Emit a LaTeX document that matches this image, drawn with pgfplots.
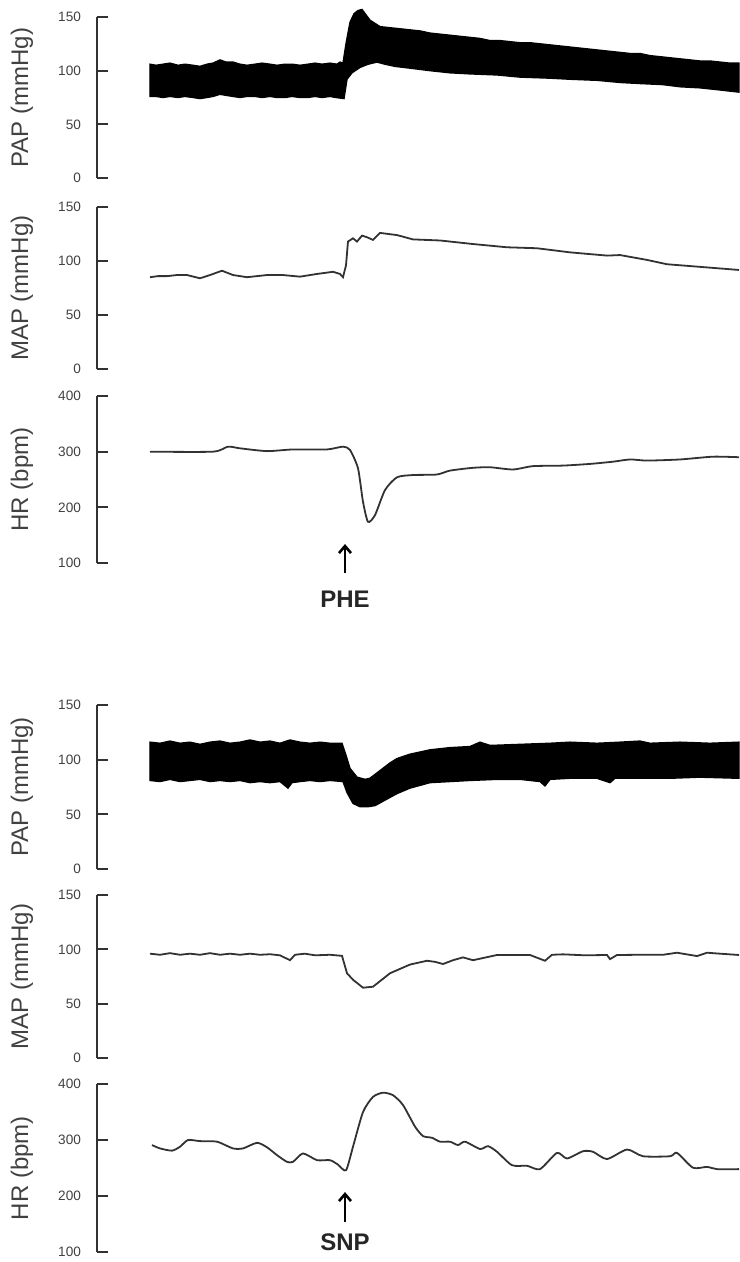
\documentclass[border=0pt]{standalone}
\usepackage{pgfplots}
\pgfplotsset{compat=1.18}
\usetikzlibrary{arrows.meta}
\usepackage{fontspec}
\setmainfont{Liberation Sans}
\definecolor{AxGray}{RGB}{50,50,50}
\definecolor{TxtGray}{RGB}{65,65,65}
\definecolor{TraceGray}{RGB}{50,50,50}

\tikzset{evtarrow/.style={-{Straight Barb[length=3.5pt,width=6pt,line width=1.3pt]}, line width=1.3pt, black}}

\pgfplotsset{
  trace/.style={
    scale only axis,
    width=321pt,
    xmin=97, xmax=739,
    axis x line=none,
    axis y line=left,
    axis line style={-, line width=1.1pt, AxGray},
    tick align=inside,
    major tick length=5.5pt,
    tick style={line width=1.1pt, AxGray},
    /pgf/number format/assume math mode=true,
    yticklabel style={font=\fontsize{6.8}{7}\selectfont, text=TxtGray, xshift=-4.5pt},
    ylabel style={at={(axis description cs:-0.117,0.5)}, anchor=center,
      font=\fontsize{12}{14}\selectfont, text=TxtGray},
    clip=false,
  },
  press/.style={trace, ymin=0, ymax=150, ytick={0,50,100,150}},
  rate/.style={trace, ymin=100, ymax=400, ytick={100,200,300,400}},
}

\begin{document}
\begin{tikzpicture}
\useasboundingbox (0,0) rectangle (369.5pt,-631pt);

% ---------- PHE: pulsatile arterial pressure (upper envelope, then lower back) ----------
\begin{axis}[press, at={(48.5pt,-89pt)}, anchor=south west, height=80.5pt,
  ylabel={PAP (mmHg)}]
\addplot[fill=black, draw=black, line width=0.7pt] coordinates {
(150,106)(156,105)(163,106)(170,107)(178,105)(185,106)(193,105)(200,104)
(207,106)(213,107)(220,110)(226,108)(233,108)(240,106)(247,105)(255,106)
(262,107)(270,106)(277,105)(285,106)(292,106)(300,105)(308,106)(315,107)
(322,106)(330,107)(337,106)(340,108)(343,107)(346,125)(350,145)(354,153)
(358,156)(362,157)(366,152)(370,147)(375,144)(380,141)(390,140)(400,139)
(410,138)(420,137)(430,135)(440,134)(450,133)(460,132)(470,131)(480,130)
(490,128)(500,128)(510,127)(520,126)(530,126)(540,125)(550,124)(560,123)
(570,122)(580,121)(590,120)(600,119)(610,118)(620,117)(630,116)(640,116)
(650,114)(660,113)(670,112)(680,111)(690,110)(700,109)(710,109)(720,108)
(730,107)(739,107)
(739,80)(720,82)(700,84)(680,85)(663,87)(640,88)(620,89)(597,91)
(570,92)(550,93)(520,94)(497,96)(470,97)(450,98)(430,100)(413,102)
(395,104)(385,106)(377,108)(368,106)(360,103)(352,98)(347,92)(344,74)
(336,75)(330,76)(322,75)(315,76)(308,75)(300,75)(292,76)(285,75)
(277,75)(270,76)(262,75)(255,76)(247,76)(240,75)(233,76)(226,77)
(220,78)(213,76)(207,75)(200,74)(193,75)(185,76)(178,75)(170,76)
(163,75)(156,76)(150,76)} -- cycle;
\end{axis}

% ---------- PHE: mean arterial pressure ----------
\begin{axis}[press, at={(48.5pt,-184.5pt)}, anchor=south west, height=81pt,
  ylabel={MAP (mmHg)}]
\addplot[TraceGray, line width=0.9pt] coordinates {
(150,85)(158,86)(167,86)(177,87)(187,87)(200,84)(210,87)(222,91)
(233,87)(247,85)(257,86)(267,87)(283,87)(300,85.5)(317,88)(333,90)
(340,88)(343,85)(346,96)(348,118)(353,121)(357,118)(362,123.5)(367,122)
(373,119.5)(380,126)(397,124)(413,120)(440,119)(473,115.7)(507,112.7)
(537,111.8)(570,108)(607,105)(620,105.5)(647,101)(667,97)(697,94.8)
(739,91.7)};
\end{axis}

% ---------- PHE: heart rate ----------
\begin{axis}[rate, at={(48.5pt,-281.5pt)}, anchor=south west, height=83.5pt,
  ylabel={HR (bpm)}]
\addplot[TraceGray, line width=0.9pt, smooth, tension=0.4] coordinates {
(150,300)(213,300)(228,309)(240,306)(267,301)(293,304)(327,304)(343,309)
(350,303)(358,270)(363,210)(368,174)(375,186)(385,231)(397,254)(413,258)
(437,259)(450,266)(473,271)(490,272)(513,268)(533,274)(563,275)(590,278)
(613,282)(630,286)(647,284)(680,286)(713,291)(739,290)};
\draw[evtarrow] (axis cs:345,82) -- (axis cs:345,134);
\node[font=\bfseries\fontsize{12}{14}\selectfont, text=black!85]
  at (axis cs:345,34) {PHE};
\end{axis}

% ---------- SNP: pulsatile arterial pressure ----------
\begin{axis}[press, at={(48.5pt,-434.5pt)}, anchor=south west, height=82pt,
  ylabel={PAP (mmHg)}]
\addplot[fill=black, draw=black, line width=0.7pt] coordinates {
(150,116)(160,115)(170,117)(180,115)(190,116)(200,114)(210,116)(220,117)
(230,115)(240,116)(250,118)(260,116)(270,117)(280,115)(290,118)(300,116)
(310,115)(320,116)(330,115)(342,115)(346,104)(350,92)(357,84)(365,82)
(370,83)(380,90)(390,97)(397,101)(410,105)(420,107)(430,109)(450,111)
(470,112)(480,116)(490,113)(520,114)(550,115)(570,116)(597,115)(620,116)
(640,117)(650,115)(680,116)(710,115)(739,116)
(739,83)(700,84)(670,83)(640,83)(615,83)(610,79)(597,83)(570,83)
(550,82)(545,76)(540,80)(520,82)(497,82)(470,81)(450,80)(430,79)
(410,74)(397,69)(385,63)(375,58)(368,57)(360,57)(353,60)(347,70)
(343,80)(330,81)(320,80)(310,81)(300,80)(292,79)(288,74)(280,80)
(270,79)(260,80)(250,79)(240,81)(230,80)(220,81)(210,80)(200,82)
(190,81)(180,80)(170,82)(160,80)(150,81)} -- cycle;
\end{axis}

% ---------- SNP: mean arterial pressure ----------
\begin{axis}[press, at={(48.5pt,-529pt)}, anchor=south west, height=81.5pt,
  ylabel={MAP (mmHg)}]
\addplot[TraceGray, line width=0.9pt] coordinates {
(150,96)(160,95)(170,96.5)(180,95)(190,96)(200,95)(210,96.5)(220,95)
(230,96)(240,95)(250,96)(260,95)(270,95.5)(280,94.5)(290,90)(295,95)
(305,96)(315,94.5)(330,95)(342,94)(347,78)(353,72)(363,64.7)(373,65.6)
(390,78)(410,86)(427,89.5)(435,88.5)(443,86.5)(453,90)(463,92.6)(473,90)
(497,94.8)(530,94.8)(545,89.5)(552,95)(563,95.4)(585,94.5)(607,94.8)
(610,91)(617,94.8)(640,95)(663,95)(677,96.9)(697,93.8)(707,96.9)
(720,96)(739,94.8)};
\end{axis}

% ---------- SNP: heart rate ----------
\begin{axis}[rate, at={(48.5pt,-626pt)}, anchor=south west, height=84pt,
  ylabel={HR (bpm)}]
\addplot[TraceGray, line width=0.9pt, smooth, tension=0.4] coordinates {
(152,291)(160,285)(172,281)(180,288)(188,300)(200,298)(217,297)(233,285)
(243,285)(257,295)(267,287)(277,273)(287,261)(293,261)(303,276)(317,264)
(330,264)(338,256)(346,246)(353,288)(363,350)(373,377)(383,384.5)(393,380)
(403,362.5)(415,324)(423,307)(432,304)(440,297)(450,297)(458,291)(465,297)
(480,284)(488,289)(497,279)(512,255)(527,254)(540,248)(557,277)(567,267)
(583,280)(593,279)(607,266)(627,283)(643,271)(670,271)(677,277)(693,250.5)
(707,252)(717,248)(739,248)};
\draw[evtarrow] (axis cs:345,154) -- (axis cs:345,207);
\node[font=\bfseries\fontsize{12}{14}\selectfont, text=black!85]
  at (axis cs:345,118) {SNP};
\end{axis}
\end{tikzpicture}
\end{document}
